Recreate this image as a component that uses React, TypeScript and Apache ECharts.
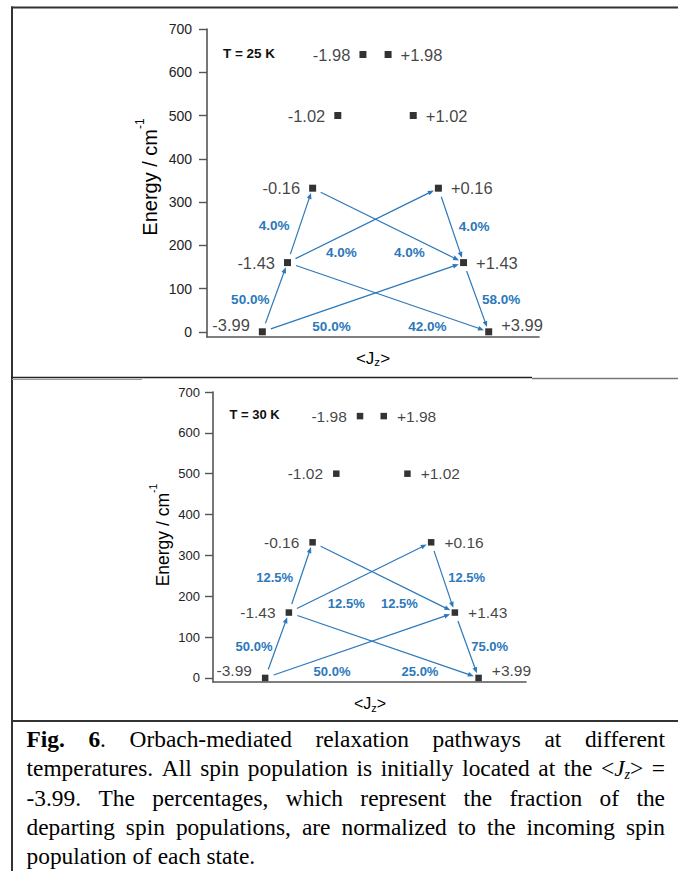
import React, { useEffect, useRef } from 'react';
import * as echarts from 'echarts';

// ---- data ----
const stateLabels = ['-3.99', '-1.43', '-0.16', '-1.02', '-1.98', '+1.98', '+1.02', '+0.16', '+1.43', '+3.99'];
const stateOrder = [0, 1, 2, 3, 4, 5, 6, 7, 8, 9];
const stateEnergies = [0, 160, 332, 500, 641, 641, 500, 332, 160, 0];
const yTicks = [0, 100, 200, 300, 400, 500, 600, 700];

const arrowFrom = [0, 0, 1, 1, 1, 2, 7, 8];
const arrowTo = [1, 8, 2, 7, 9, 8, 8, 9];
const pct25 = ['50.0%', '50.0%', '4.0%', '4.0%', '42.0%', '4.0%', '4.0%', '58.0%'];
const pct30 = ['50.0%', '50.0%', '12.5%', '12.5%', '25.0%', '12.5%', '12.5%', '75.0%'];
const pctPos25X = [-0.48, 2.75, 0.47, 3.14, 6.56, 5.85, 8.42, 9.49];
const pctPos25Y = [75, 12, 246, 183, 12, 183, 243, 74];
const pctPos30X = [-0.47, 2.82, 0.4, 3.42, 6.53, 5.66, 8.5, 9.47];
const pctPos30Y = [77, 15, 246, 182, 15, 182, 246, 77];
const temps = ['T = 25 K', 'T = 30 K'];

const captionLines: any[][] = [
  [[['b', 'Fig.']], [['b', '6'], ['n', '.']], [['n', 'Orbach-mediated']], [['n', 'relaxation']], [['n', 'pathways']], [['n', 'at']], [['n', 'different']]],
  [[['n', 'temperatures.']], [['n', 'All']], [['n', 'spin']], [['n', 'population']], [['n', 'is']], [['n', 'initially']], [['n', 'located']], [['n', 'at']], [['n', 'the']], [['n', '<'], ['i', 'J'], ['sub', 'z'], ['n', '>']], [['n', '=']]],
  [[['n', '-3.99.']], [['n', 'The']], [['n', 'percentages,']], [['n', 'which']], [['n', 'represent']], [['n', 'the']], [['n', 'fraction']], [['n', 'of']], [['n', 'the']]],
  [[['n', 'departing']], [['n', 'spin']], [['n', 'populations,']], [['n', 'are']], [['n', 'normalized']], [['n', 'to']], [['n', 'the']], [['n', 'incoming']], [['n', 'spin']]],
  [[['n', 'population']], [['n', 'of']], [['n', 'each']], [['n', 'state.']]],
];

const BLUE = '#2b78ba';
const AXIS = '#555';
const SANS = 'Liberation Sans';
const SERIF = 'Liberation Serif';

const panels = [
  {
    grid: { left: 207, top: 29, width: 332, height: 308 }, yMin: -12,
    pct: pct25, px: pctPos25X, py: pctPos25Y, temp: temps[0], tempPos: [249, 53], tempFont: 13.5,
    tickFont: 14, tickMargin: 15, ptFont: 16.5, pctFont: 13.5, sym: 7, labelDist: 9,
    nameFont: 20, namePos: [150, 177], supOff: 11.5, jzPos: [373, 358], jzFont: 17,
  },
  {
    grid: { left: 213, top: 392, width: 313, height: 290 }, yMin: -10,
    pct: pct30, px: pctPos30X, py: pctPos30Y, temp: temps[1], tempPos: [254.5, 414], tempFont: 13,
    tickFont: 13, tickMargin: 13, ptFont: 15.5, pctFont: 13, sym: 6.5, labelDist: 10,
    nameFont: 17.5, namePos: [163, 535], supOff: 10.5, jzPos: [370, 703], jzFont: 16,
  },
];

const CAP_FONT = 23.4;
const CAP_LEFT = 26.5;
const CAP_RIGHT = 665;
const CAP_Y0 = 739;
const CAP_DY = 29.3;

function segFont(kind: string) {
  if (kind === 'b') return `bold ${CAP_FONT}px "${SERIF}"`;
  if (kind === 'i') return `italic ${CAP_FONT}px "${SERIF}"`;
  if (kind === 'sub') return `italic 14px "${SERIF}"`;
  return `${CAP_FONT}px "${SERIF}"`;
}

function buildCaption(): any[] {
  const canvas = document.createElement('canvas');
  const ctx = canvas.getContext('2d') as CanvasRenderingContext2D;
  const measure = (kind: string, t: string) => {
    ctx.font = segFont(kind);
    return ctx.measureText(t).width;
  };
  const spaceW = measure('n', ' ');
  const rich = {
    n: { fontFamily: SERIF, fontSize: CAP_FONT, lineHeight: 27, color: '#111' },
    b: { fontFamily: SERIF, fontSize: CAP_FONT, fontWeight: 'bold', lineHeight: 27, color: '#111' },
    i: { fontFamily: SERIF, fontSize: CAP_FONT, fontStyle: 'italic', lineHeight: 27, color: '#111' },
    sub: { fontFamily: SERIF, fontSize: 14, fontStyle: 'italic', lineHeight: 13, verticalAlign: 'bottom', color: '#111' },
  };
  const out: any[] = [];
  captionLines.forEach((words, li) => {
    const widths = words.map((w: any[]) => w.reduce((s: number, seg: any[]) => s + measure(seg[0], seg[1]), 0));
    const total = widths.reduce((a: number, b: number) => a + b, 0);
    const last = li === captionLines.length - 1;
    const gap = last ? spaceW : (CAP_RIGHT - CAP_LEFT - total) / (words.length - 1);
    let x = CAP_LEFT;
    const y = CAP_Y0 + li * CAP_DY;
    words.forEach((w: any[], wi: number) => {
      const text = w.map((seg: any[]) => `{${seg[0]}|${seg[1]}}`).join('');
      out.push({
        type: 'text', x, y, z: 10,
        style: { text, rich, align: 'left', verticalAlign: 'middle' },
      });
      x += widths[wi] + gap;
    });
  });
  return out;
}

function line(x1: number, y1: number, x2: number, y2: number, color: string, w: number) {
  return { type: 'line', z: 1, shape: { x1, y1, x2, y2 }, style: { stroke: color, lineWidth: w } };
}

export default function App() {
  const ref = useRef<HTMLDivElement>(null);
  useEffect(() => {
    if (!ref.current) return;
    const chart = echarts.init(ref.current, null, { renderer: 'svg' });

    const grids: any[] = [];
    const xAxes: any[] = [];
    const yAxes: any[] = [];
    const series: any[] = [];
    const graphics: any[] = [];

    panels.forEach((p, pi) => {
      grids.push({ ...p.grid, outerBoundsMode: 'none', containLabel: false });
      xAxes.push({
        gridIndex: pi, type: 'value', min: -2.2, max: 11,
        axisLine: { show: true, onZero: false, lineStyle: { color: AXIS, width: 1.6 } },
        axisTick: { show: false }, axisLabel: { show: false }, splitLine: { show: false },
      });
      yAxes.push({
        gridIndex: pi, type: 'value', min: p.yMin, max: 700,
        axisLine: { show: true, onZero: false, lineStyle: { color: AXIS, width: 1.6 } },
        axisTick: { show: true, length: 8, customValues: yTicks, lineStyle: { color: AXIS, width: 1.4 } },
        axisLabel: { show: true, customValues: yTicks, margin: p.tickMargin, fontSize: p.tickFont, color: '#222', fontFamily: SANS },
        splitLine: { show: false },
      });

      // arrows
      const arrowData = arrowFrom.map((f, k) => [stateOrder[f], stateEnergies[f], stateOrder[arrowTo[k]], stateEnergies[arrowTo[k]]]);
      series.push({
        type: 'custom', xAxisIndex: pi, yAxisIndex: pi, z: 3, clip: false, silent: true,
        data: arrowData,
        renderItem: (_params: any, api: any) => {
          const a = api.coord([api.value(0), api.value(1)]);
          const b = api.coord([api.value(2), api.value(3)]);
          const dx = b[0] - a[0];
          const dy = b[1] - a[1];
          const len = Math.hypot(dx, dy);
          const ux = dx / len;
          const uy = dy / len;
          const sx = a[0] + ux * 9;
          const sy = a[1] + uy * 9;
          const tx = b[0] - ux * 5;
          const ty = b[1] - uy * 5;
          const hl = 6;
          const hw = 2.4;
          const bx = tx - ux * hl;
          const by = ty - uy * hl;
          return {
            type: 'group',
            children: [
              { type: 'line', shape: { x1: sx, y1: sy, x2: bx + ux, y2: by + uy }, style: { stroke: BLUE, lineWidth: 1.2 } },
              { type: 'polygon', shape: { points: [[tx, ty], [bx - uy * hw, by + ux * hw], [bx + uy * hw, by - ux * hw]] }, style: { fill: BLUE } },
            ],
          };
        },
      });

      // percentage labels
      const pctData = p.px.map((x, k) => [x, p.py[k]]);
      series.push({
        type: 'custom', xAxisIndex: pi, yAxisIndex: pi, z: 4, clip: false, silent: true,
        data: pctData,
        renderItem: (params: any, api: any) => {
          const c = api.coord([api.value(0), api.value(1)]);
          return {
            type: 'text', x: c[0], y: c[1],
            style: {
              text: p.pct[params.dataIndex], fill: BLUE, fontSize: p.pctFont, fontWeight: 'bold',
              fontFamily: SANS, align: 'center', verticalAlign: 'middle',
            },
          };
        },
      });

      // states
      series.push({
        type: 'scatter', xAxisIndex: pi, yAxisIndex: pi, z: 5, silent: true,
        symbol: 'rect', symbolSize: p.sym, itemStyle: { color: '#000' },
        data: stateOrder.map((xi, i) => ({
          name: stateLabels[i],
          value: [xi, stateEnergies[i]],
          label: {
            show: true,
            formatter: '{b}',
            position: i < 5 ? 'left' : 'right',
            distance: p.labelDist,
            offset: stateEnergies[i] === 0 ? [0, -7] : [0, 0],
            fontSize: p.ptFont,
            color: '#111',
            fontFamily: SANS,
          },
        })),
      });

      graphics.push({
        type: 'text', x: p.tempPos[0], y: p.tempPos[1], z: 10,
        style: { text: p.temp, fontSize: p.tempFont, fontWeight: 'bold', fontFamily: SANS, fill: '#111', align: 'center', verticalAlign: 'middle' },
      });
      graphics.push({
        type: 'text', x: p.namePos[0], y: p.namePos[1], rotation: Math.PI / 2, z: 10,
        style: {
          text: '{a|Energy / cm}{s|-1}', align: 'center', verticalAlign: 'middle',
          rich: {
            a: { fontSize: p.nameFont, fontFamily: SANS, color: '#111', lineHeight: p.supOff * 2 + 10 },
            s: { fontSize: p.nameFont * 0.6, fontFamily: SANS, color: '#111', lineHeight: 10, verticalAlign: 'top' },
          },
        },
      });
      graphics.push({
        type: 'text', x: p.jzPos[0], y: p.jzPos[1], z: 10,
        style: {
          text: '{a|<J}{s|z}{a|>}', align: 'center', verticalAlign: 'middle',
          rich: {
            a: { fontSize: p.jzFont, fontFamily: SANS, color: '#111', lineHeight: 20 },
            s: { fontSize: p.jzFont * 0.68, fontFamily: SANS, color: '#111', lineHeight: 10, verticalAlign: 'bottom' },
          },
        },
      });
    });

    // frame
    graphics.push(line(11, 7.5, 678, 7.5, '#333', 2));
    graphics.push(line(12, 6.5, 12, 871, '#333', 2));
    graphics.push(line(11, 377.5, 532, 377.5, '#222', 1.6));
    graphics.push(line(532, 378.5, 678, 378.5, '#777', 1.6));
    graphics.push(line(12, 379.5, 142, 379.5, '#999', 1));
    graphics.push(line(11, 721, 678, 721, '#333', 2));

    buildCaption().forEach((g) => graphics.push(g));

    chart.setOption({
      animation: false,
      backgroundColor: '#fff',
      grid: grids,
      xAxis: xAxes,
      yAxis: yAxes,
      series,
      graphic: graphics,
    });
    return () => chart.dispose();
  }, []);
  return <div ref={ref} style={{ position: 'absolute', left: 0, top: 0, width: 678, height: 871 }} />;
}
